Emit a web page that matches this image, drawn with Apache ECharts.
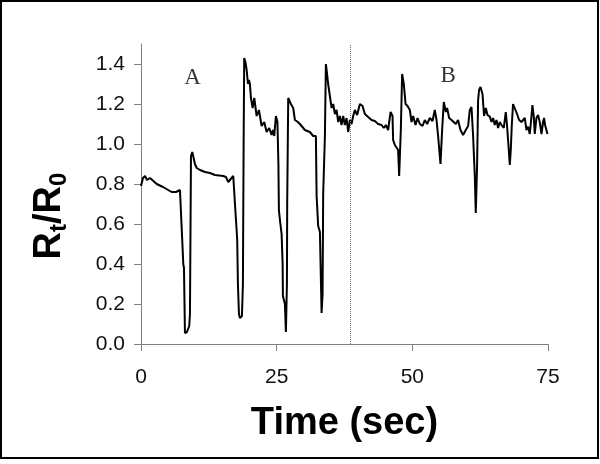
<!DOCTYPE html>
<html>
<head>
<meta charset="utf-8">
<script src="https://cdn.jsdelivr.net/npm/echarts@6/dist/echarts.min.js"></script>
<style>
html,body{margin:0;padding:0;background:#fff;}
#chart{width:600px;height:464px;}
</style>
</head>
<body>
<div id="chart"></div>
<script>
// Time (sec)
const time = [0,0.18,0.37,0.74,1.10,1.66,2.89,4.05,5.65,6.45,7.18,7.46,7.68,7.79,7.92,8.10,8.47,8.89,9.02,9.21,9.45,9.76,9.94,10.26,10.87,11.79,12.71,13.63,15.16,15.65,16.08,16.39,17.00,17.22,17.50,17.62,17.73,17.86,18.05,18.23,18.60,18.78,18.91,19.02,19.24,19.47,19.71,19.89,20.07,20.26,20.57,20.87,21.31,21.73,22.23,22.71,23.15,23.63,24.07,24.31,24.55,24.86,25.14,25.32,25.41,25.60,25.91,26.10,26.15,26.52,26.70,26.89,26.94,27.13,27.26,27.62,28.05,28.36,28.91,29.28,30.20,31.12,31.73,32.04,32.23,32.36,32.65,32.97,33.28,33.46,33.57,33.89,34.07,34.25,34.49,34.81,35.12,35.41,35.73,36.04,36.34,36.65,36.96,37.26,37.57,37.88,38.18,38.49,38.80,39.10,39.41,39.83,40.33,40.83,41.25,41.86,42.49,43.09,43.70,44.33,44.75,45.12,45.54,45.99,46.35,46.46,46.78,47.09,47.38,47.57,47.88,48.12,48.43,48.75,49.12,49.54,49.85,50.15,50.59,50.96,51.38,51.88,52.30,52.73,53.22,53.72,54.14,54.46,54.75,55.19,55.49,55.80,56.17,56.41,56.78,57.22,57.51,58.01,58.43,58.87,59.35,59.85,60.28,60.59,60.90,61.20,61.51,61.69,61.93,62.12,62.30,62.56,62.93,63.22,63.54,63.85,64.27,64.59,64.88,65.19,65.51,65.80,66.11,66.43,66.85,67.22,67.46,67.72,67.96,68.14,68.32,68.56,68.88,69.30,69.67,70.11,70.40,70.72,71.03,71.33,71.64,71.95,72.13,72.38,72.56,72.87,73.17,73.48,73.80,74.09,74.27,74.46,74.72,74.90];
// Rt/R0
const ratio = [0.79,0.80,0.83,0.84,0.82,0.83,0.80,0.785,0.76,0.76,0.77,0.76,0.47,0.40,0.38,0.055,0.06,0.09,0.15,0.94,0.96,0.95,0.90,0.88,0.87,0.86,0.855,0.845,0.84,0.835,0.81,0.82,0.84,0.83,0.62,0.57,0.52,0.30,0.15,0.13,0.14,0.30,1.00,1.43,1.41,1.37,1.30,1.32,1.30,1.23,1.18,1.23,1.14,1.17,1.09,1.11,1.06,1.08,1.045,1.07,1.04,1.14,1.11,0.90,0.67,0.62,0.55,0.40,0.24,0.20,0.06,0.30,0.70,1.23,1.225,1.20,1.18,1.12,1.11,1.10,1.07,1.06,1.04,1.05,1.04,0.74,0.59,0.56,0.155,0.25,0.75,1.04,1.40,1.36,1.30,1.29,1.18,1.20,1.15,1.17,1.11,1.14,1.095,1.14,1.095,1.13,1.06,1.12,1.10,1.14,1.17,1.145,1.20,1.19,1.15,1.135,1.12,1.115,1.10,1.095,1.08,1.095,1.07,1.16,1.14,1.02,0.995,1.00,0.97,0.84,1.07,1.35,1.30,1.20,1.19,1.17,1.11,1.14,1.095,1.13,1.10,1.09,1.12,1.10,1.13,1.115,1.17,1.12,1.04,0.90,1.07,1.21,1.16,1.18,1.13,1.12,1.11,1.10,1.12,1.07,1.045,1.07,1.09,1.17,1.185,1.04,0.84,0.655,0.89,1.22,1.27,1.285,1.25,1.14,1.18,1.145,1.137,1.11,1.13,1.095,1.12,1.08,1.11,1.095,1.08,1.16,1.09,0.99,0.895,0.97,1.09,1.20,1.21,1.15,1.12,1.11,1.10,1.13,1.07,1.087,1.05,1.137,1.195,1.137,1.05,1.13,1.145,1.11,1.05,1.11,1.13,1.095,1.10,1.05];
const xTicks = [0,25,50,75];
const yTicks = [0,0.2,0.4,0.6,0.8,1.0,1.2,1.4];
const dividerTime = 38.6;
const panelNames = ['A','B'];
const panelTime = [9.5,56.6];
const panelRatio = [1.33,1.34];

const chart = echarts.init(document.getElementById('chart'), null, {renderer:'canvas'});
const axisGray = '#808080';
chart.setOption({
  animation:false,
  backgroundColor:'#fff',
  grid:{left:141,right:52,top:44,bottom:120,containLabel:false},
  xAxis:{
    type:'value',min:0,max:75,interval:25,
    splitLine:{show:false},
    axisLine:{lineStyle:{color:axisGray,width:1}},
    axisTick:{show:true,length:7,lineStyle:{color:axisGray},customValues:xTicks},
    axisLabel:{fontFamily:'Liberation Sans',fontSize:21,color:'#111',margin:23,customValues:xTicks},
    name:'Time (sec)',nameLocation:'middle',nameGap:61,
    nameTextStyle:{fontFamily:'Liberation Sans',fontWeight:'bold',fontSize:38,color:'#000'}
  },
  yAxis:{
    type:'value',min:0,max:1.5,
    splitLine:{show:false},
    axisLine:{show:true,lineStyle:{color:axisGray,width:1}},
    axisTick:{show:true,length:7,lineStyle:{color:axisGray},customValues:yTicks},
    axisLabel:{fontFamily:'Liberation Sans',fontSize:21,color:'#111',margin:16,customValues:yTicks,
      formatter:v=>v.toFixed(1)},
    name:'{a|R}{b|t}{a|/R}{b|0}',nameLocation:'middle',nameGap:70,
    nameTextStyle:{
      padding:[0,44,0,0],
      rich:{
        a:{fontFamily:'Liberation Sans',fontWeight:'bold',fontSize:38,color:'#000',lineHeight:40,verticalAlign:'top'},
        b:{fontFamily:'Liberation Sans',fontWeight:'bold',fontSize:24,color:'#000',lineHeight:24,verticalAlign:'bottom',padding:[20,0,0,0]}
      }
    }
  },
  series:[
    {
      type:'line',
      data:time.map((t,i)=>[t,ratio[i]]),
      showSymbol:false,symbol:'none',
      lineStyle:{color:'#000',width:2},
      silent:true,
      markLine:{
        silent:true,symbol:['none','none'],label:{show:false},
        lineStyle:{color:'#777',type:'dotted',width:1},
        data:[{xAxis:dividerTime}]
      }
    },
    {
      type:'scatter',
      data:panelNames.map((n,i)=>[panelTime[i],panelRatio[i],n]),
      symbolSize:0,silent:true,
      label:{show:true,position:'inside',formatter:p=>p.data[2],
        fontFamily:'Liberation Serif',fontSize:23,color:'#000'}
    }
  ],
  graphic:[
    {type:'rect',shape:{x:1,y:1,width:597,height:457},style:{fill:'none',stroke:'#000',lineWidth:2},silent:true}
  ]
});
</script>
</body>
</html>
